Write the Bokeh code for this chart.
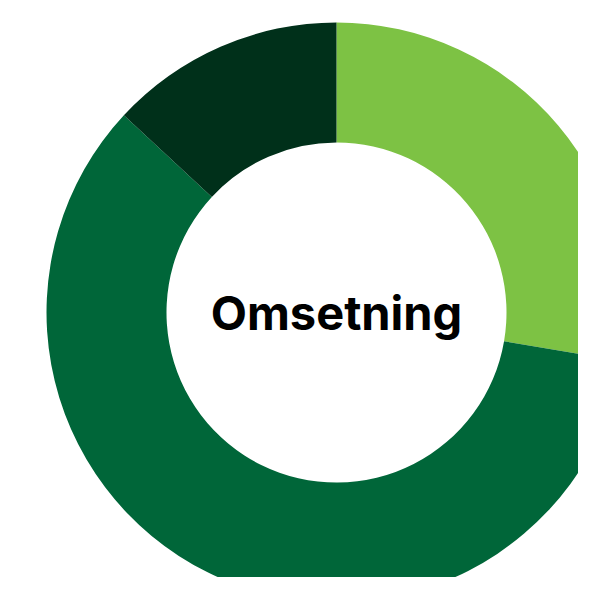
import numpy as np
from bokeh.plotting import figure
from bokeh.models import Range1d
from bokeh.core.properties import value
from bokeh.embed import file_html
from bokeh.resources import INLINE

# Data
categories = ["Segment A", "Segment B", "Segment C"]
shares = [27.7, 59.2, 13.1]
colors = ["#7DC244", "#006639", "#00301A"]
center_label = "Omsetning"

W, H = 578, 577
p = figure(width=W, height=H, output_backend="svg", toolbar_location=None,
           x_range=Range1d(0, W), y_range=Range1d(0, H), min_border=0)
p.axis.visible = False
p.grid.visible = False
p.outline_line_color = None
p.background_fill_color = "white"
p.border_fill_color = "white"

cx, cy = 336, H - 312
vals = np.array(shares, dtype=float)
frac = vals / vals.sum()
cum = np.concatenate([[0], np.cumsum(frac)])
start = np.pi / 2 - cum[:-1] * 2 * np.pi
end = np.pi / 2 - cum[1:] * 2 * np.pi

p.annular_wedge(x=cx, y=cy, inner_radius=170, outer_radius=290,
                start_angle=start, end_angle=end, direction="clock",
                fill_color=colors, line_color=None)

p.text(x=[cx], y=[cy], text=[center_label], text_align="center",
       text_baseline="middle", text_font=value("Inter"), text_font_style="bold",
       text_font_size="47px", text_color="#000000")

open("out.html", "w").write(file_html(p, INLINE))
